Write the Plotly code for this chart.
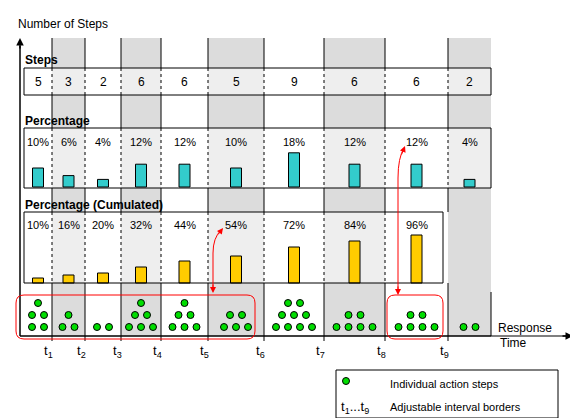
import plotly.graph_objects as go

steps = [5, 3, 2, 6, 6, 5, 9, 6, 6, 2]
pct = [10, 6, 4, 12, 12, 10, 18, 12, 12, 4]
cum = [10, 16, 20, 32, 44, 54, 72, 84, 96]
dot_rows = [[2, 2, 1], [2, 1], [2], [3, 2, 1], [3, 2, 1], [3, 2], [4, 3, 2], [4, 2], [4, 2], [2]]
border_labels = ["t1", "t2", "t3", "t4", "t5", "t6", "t7", "t8", "t9"]

edges = [16, 44, 77, 113, 153, 200, 256, 316, 377, 440, 483]
centers = [(edges[i] + edges[i + 1]) / 2 for i in range(10)]
shaded = [1, 3, 5, 7, 9]
FONT = "Liberation Sans, Arial, sans-serif"
def F(s): return dict(size=s, family=FONT, color="black")

shapes = []
ann = []
def rect(x0, y0, x1, y1, fill=None, line="black", w=1, dash=None, layer="above"):
    d = dict(type="rect", x0=x0, y0=y0, x1=x1, y1=y1, layer=layer,
             line=dict(color=line, width=w, dash=dash) if line else dict(width=0))
    if fill: d["fillcolor"] = fill
    shapes.append(d)
def ln(x0, y0, x1, y1, color="black", w=1, dash=None):
    shapes.append(dict(type="line", x0=x0, y0=y0, x1=x1, y1=y1, layer="above",
                       line=dict(color=color, width=w, dash=dash)))

for i in shaded:
    rect(edges[i], 30, edges[i + 1], 328, fill="#dcdcdc", line=None, layer="below")
boxes = [(16, 60, 483, 87), (16, 120, 483, 180), (16, 204, 435, 275)]
for (x0, y0, x1, y1) in boxes:
    rect(x0, y0, x1, y1, fill="white", line=None, layer="below")
    for i in shaded:
        a, b = edges[i], min(edges[i + 1], x1)
        if a < x1:
            rect(a, y0, b, y1, fill="#eeeeee", line=None, layer="below")
    rect(x0, y0, x1, y1, w=1)
for k, x in enumerate(edges[1:10]):
    for (a, b) in [(30, 60), (87, 120), (180, 204), (275, 333)]:
        ln(x, a, x, b)
    for (x0, y0, x1, y1) in boxes:
        if x < x1:
            ln(x, y0, x, y1, dash="dot")
    ann.append(dict(x=x - 4, y=343, text=border_labels[k][0] + "<sub>" + border_labels[k][1:] + "</sub>",
                    showarrow=False, font=F(13)))
ln(12, 328, 483, 328)
ln(483, 284, 483, 328)
ln(12, 328, 12, 38, w=1.5)
ln(12, 328, 560, 328, w=1.2)
ann.append(dict(x=12, y=30, ax=12, ay=42, axref="x", ayref="y", text="", showarrow=True,
                arrowhead=2, arrowsize=1, arrowwidth=1.5, arrowcolor="black"))
ann.append(dict(x=565, y=328, ax=553, ay=328, axref="x", ayref="y", text="", showarrow=True,
                arrowhead=2, arrowsize=1, arrowwidth=1.5, arrowcolor="black"))

ann += [dict(x=8, y=16, text="Number of Steps", xanchor="left", showarrow=False, font=F(12)),
        dict(x=488, y=320, text="Response", xanchor="left", showarrow=False, font=F(12)),
        dict(x=490, y=335, text="Time", xanchor="left", showarrow=False, font=F(12)),
        dict(x=15, y=52, text="<b>Steps</b>", xanchor="left", showarrow=False, font=F(12)),
        dict(x=15, y=113, text="<b>Percentage</b>", xanchor="left", showarrow=False, font=F(12)),
        dict(x=15, y=197, text="<b>Percentage (Cumulated)</b>", xanchor="left", showarrow=False, font=F(12))]
for i in range(10):
    ann.append(dict(x=centers[i], y=74, text=str(steps[i]), showarrow=False, font=F(12)))
    ann.append(dict(x=centers[i], y=134, text=f"{pct[i]}%", showarrow=False, font=F(11)))
for i in range(9):
    ann.append(dict(x=centers[i], y=217, text=f"{cum[i]}%", showarrow=False, font=F(11)))

fig = go.Figure()
fig.add_trace(go.Bar(x=centers, y=[-v * 1.9 for v in pct], base=[179] * 10, width=11,
                     marker=dict(color="#33cccc", line=dict(color="black", width=1))))
fig.add_trace(go.Bar(x=centers[:9], y=[-v * 0.5 for v in cum], base=[275] * 9, width=11,
                     marker=dict(color="#ffcc00", line=dict(color="black", width=1))))
dx, dy = [], []
row_y = [319, 307, 295]
for i, rows in enumerate(dot_rows):
    for r, n in enumerate(rows):
        for j in range(n):
            dx.append(centers[i] + (j - (n - 1) / 2) * 12)
            dy.append(row_y[r])
fig.add_trace(go.Scatter(x=dx + [338], y=dy + [373], mode="markers",
                         marker=dict(size=7, color="#00dd00", line=dict(color="black", width=1))))

for (x0, x1) in [(8, 247), (379, 435)]:
    shapes.append(dict(type="path", layer="above", line=dict(color="red", width=1),
                       path=f"M{x0+8},287 L{x1-8},287 Q{x1},287 {x1},295 L{x1},323 Q{x1},331 {x1-8},331 "
                            f"L{x0+8},331 Q{x0},331 {x0},323 L{x0},295 Q{x0},287 {x0+8},287 Z"))
shapes.append(dict(type="path", layer="above", line=dict(color="red", width=1),
                   path="M205,282 L205,245 Q205,230 213,222"))
shapes.append(dict(type="path", layer="above", line=dict(color="red", width=1),
                   path="M390,284 L390,170 Q390,150 396,140"))
for (x, y, ax, ay) in [(205, 285, 205, 275), (215, 220, 209, 228), (390, 287, 390, 277), (397, 138, 393, 148)]:
    ann.append(dict(x=x, y=y, ax=ax, ay=ay, axref="x", ayref="y", text="", showarrow=True,
                    arrowhead=2, arrowsize=1.2, arrowwidth=1, arrowcolor="red"))

rect(328, 362, 550, 410)
ann.append(dict(x=380, y=376, text="Individual action steps", xanchor="left", showarrow=False, font=F(11)))
ann.append(dict(x=331, y=399, text="t<sub>1</sub>...t<sub>9</sub>", xanchor="left", showarrow=False, font=F(13)))
ann.append(dict(x=380, y=399, text="Adjustable interval borders", xanchor="left", showarrow=False, font=F(11)))

fig.update_layout(width=578, height=418, margin=dict(l=0, r=0, t=0, b=0),
                  paper_bgcolor="white", plot_bgcolor="white", showlegend=False,
                  barmode="overlay", shapes=shapes, annotations=ann,
                  xaxis=dict(range=[0, 578], visible=False, fixedrange=True),
                  yaxis=dict(range=[418, 0], visible=False, fixedrange=True))
fig.write_html("out.html")
